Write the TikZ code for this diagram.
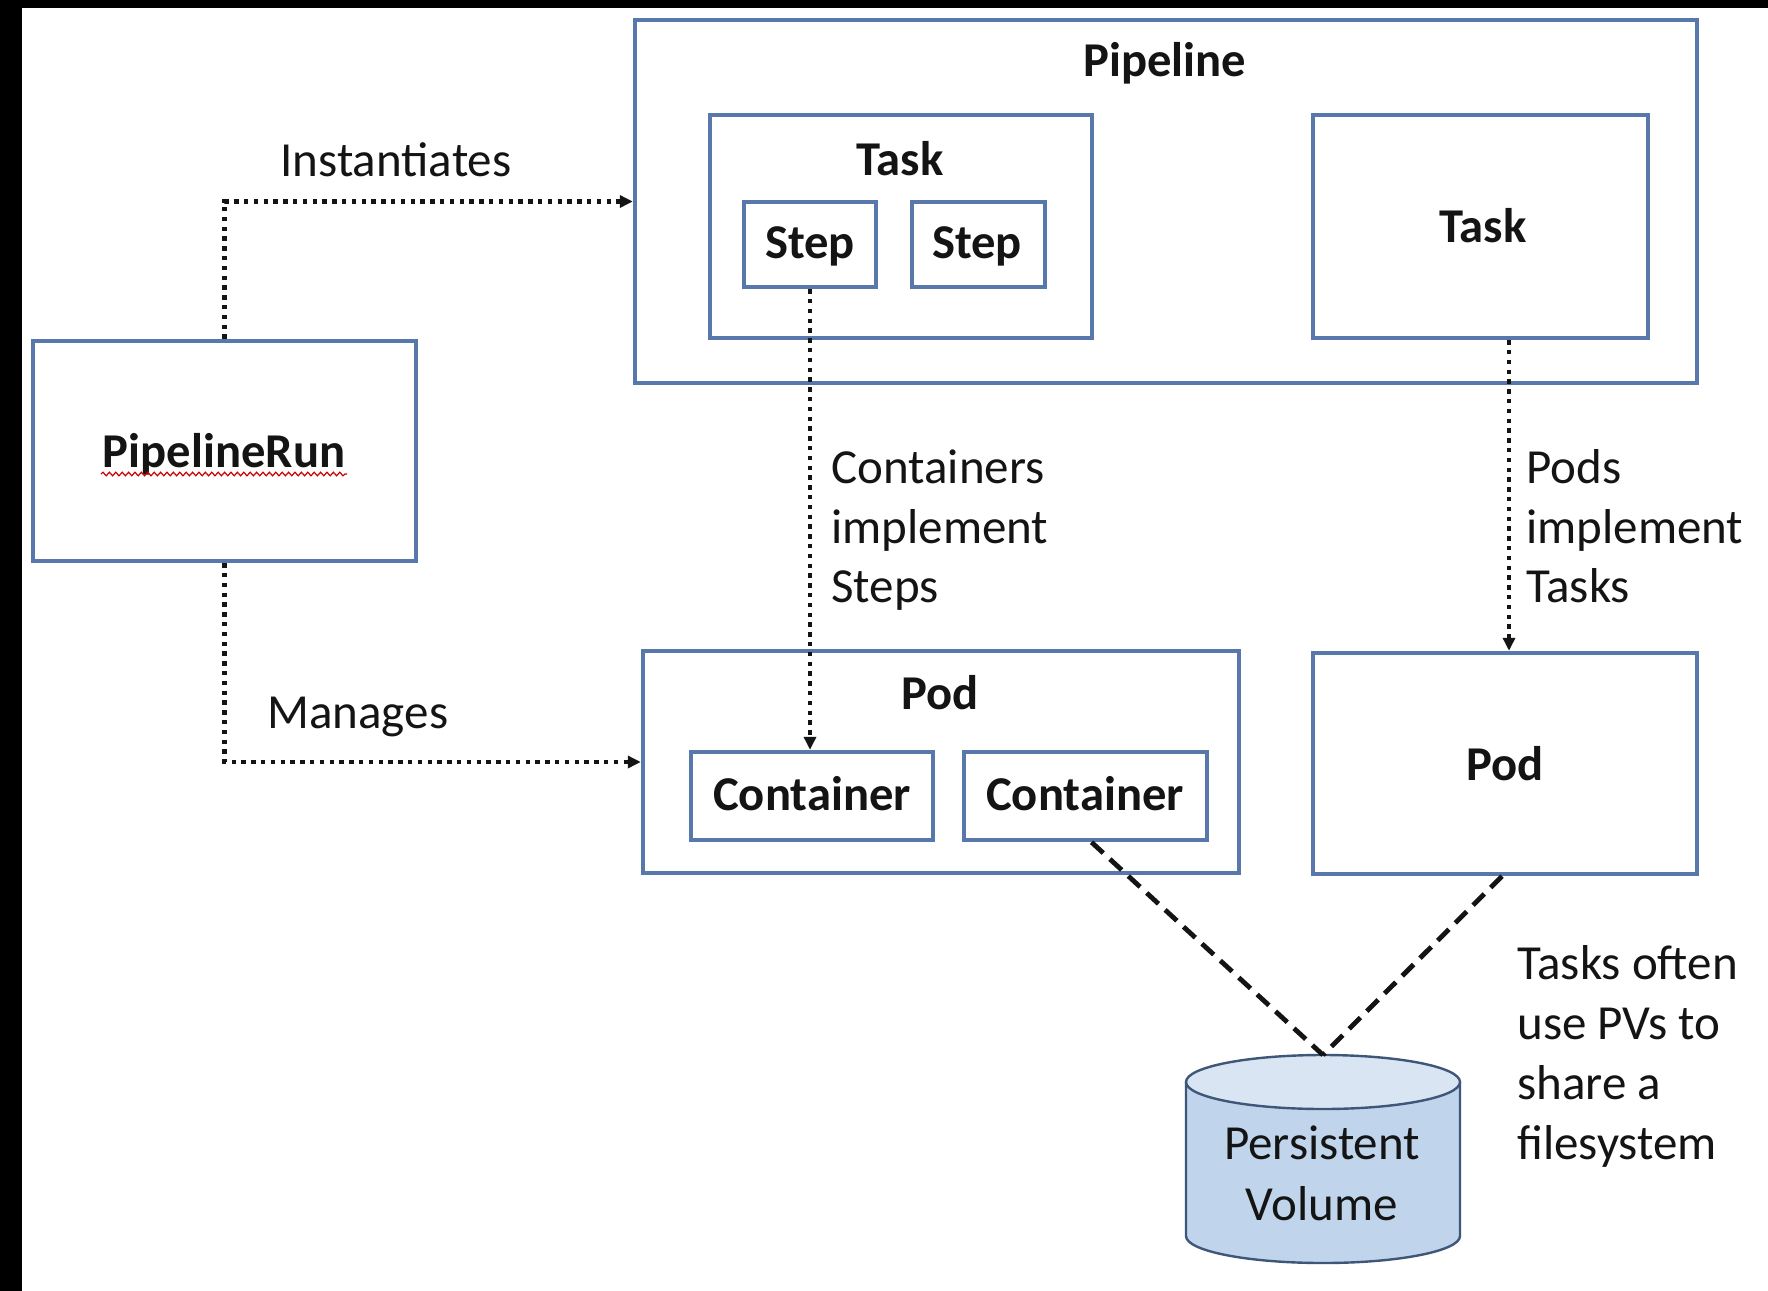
\documentclass[tikz,border=0pt]{standalone}
\usepackage{fontspec}
\setmainfont{Carlito}
\usetikzlibrary{arrows.meta,calc,fit,shadows,decorations.pathmorphing}
\definecolor{boxblue}{RGB}{88,120,172}
\definecolor{cylfill}{RGB}{192,213,236}
\definecolor{cyltop}{RGB}{218,229,243}
\definecolor{cylline}{RGB}{62,86,120}
\definecolor{txt}{RGB}{20,20,20}
\begin{document}
\begin{tikzpicture}[x=0.5pt,y=-0.5pt,
  box/.style={draw=boxblue, line width=2.2pt, fill=white, inner sep=0pt,
    drop shadow={shadow xshift=0.9pt, shadow yshift=-1.1pt, opacity=0.25}},
  lbl/.style={font=\fontsize{24.5}{29}\selectfont, text=txt, inner sep=0pt},
  blbl/.style={font=\fontsize{24.3}{29}\selectfont\bfseries, text=txt, inner sep=0pt},
  dotarrow/.style={draw=txt, line width=2.2pt, dash pattern=on 2.2pt off 2.7pt,
    -{Triangle[length=6.5pt,width=6pt]}},
  dashline/.style={draw=txt, line width=2.4pt, dash pattern=on 8pt off 4.5pt},
]
\useasboundingbox (0,0) rectangle (1768,1291);
\fill[white] (0,0) rectangle (1768,1291);
\fill[black] (0,0) rectangle (1768,8);
\fill[black] (0,0) rectangle (22,1291);

% boxes
\node[box, fit={(635,20)(1697,383)}] (pipeline) {};
\node[box, fit={(710,115)(1092,338)}] (taskL) {};
\node[box, fit={(744,202)(876,287)}] (step1) {};
\node[box, fit={(912,202)(1045,287)}] (step2) {};
\node[box, fit={(1313,115)(1648,338)}] (taskR) {};
\node[box, fit={(33,341)(416,561)}] (prun) {};
\node[box, fit={(643,651)(1239,873)}] (podL) {};
\node[box, fit={(691,752)(933,840)}] (cont1) {};
\node[box, fit={(964,752)(1207,840)}] (cont2) {};
\node[box, fit={(1313,653)(1697,874)}] (podR) {};

% cylinder
\fill[cylfill] (1186,1082) -- (1186,1236)
  arc[start angle=180, end angle=360, x radius=68.5pt, y radius=13.5pt]
  -- (1460,1082) -- cycle;
\draw[cylline, line width=1.2pt] (1186,1082) -- (1186,1236)
  arc[start angle=180, end angle=360, x radius=68.5pt, y radius=13.5pt]
  -- (1460,1082);
\draw[cylline, line width=1.2pt, fill=cyltop] (1323,1082) ellipse [x radius=68.5pt, y radius=13.5pt];
\coordinate (pvtop) at (1323,1055);

% bold labels
\node[blbl, anchor=base] (tPipeline) at (1165,76) {Pipeline};
\node[blbl, anchor=base] (tTaskL) at (900,175) {Task};
\node[blbl, anchor=base] (tStep1) at (810,258) {Step};
\node[blbl, anchor=base] (tStep2) at (977,258) {Step};
\node[blbl, anchor=base] (tTaskR) at (1483,242) {Task};
\node[blbl, anchor=base] (tPrun) at (224,467) {PipelineRun};
\node[blbl, anchor=base] (tPodL) at (940,709) {Pod};
\node[blbl, anchor=base] (tCont1) at (812,810) {Container};
\node[blbl, anchor=base] (tCont2) at (1085,810) {Container};
\node[blbl, anchor=base] (tPodR) at (1505,780) {Pod};
\draw[red!80!black, line width=0.6pt, decorate,
  decoration={snake, amplitude=0.9pt, segment length=3.2pt}] (101,474) -- (347,474);

% plain labels
\node[lbl, anchor=base west] (lInst) at (280,176) {Instantiates};
\node[lbl, anchor=base west] (lMan) at (267,728) {Manages};
\node[lbl, anchor=base west] (lC1) at (831,483) {Containers};
\node[lbl, anchor=base west] (lC2) at (831,543) {implement};
\node[lbl, anchor=base west] (lC3) at (831,602) {Steps};
\node[lbl, anchor=base west] (lP1) at (1526,483) {Pods};
\node[lbl, anchor=base west] (lP2) at (1526,543) {implement};
\node[lbl, anchor=base west] (lP3) at (1526,602) {Tasks};
\node[lbl, anchor=base west] (lT1) at (1517,979) {Tasks often};
\node[lbl, anchor=base west] (lT2) at (1517,1039) {use PVs to};
\node[lbl, anchor=base west] (lT3) at (1517,1099) {share a};
\node[lbl, anchor=base west] (lT4) at (1517,1159) {filesystem};
\node[lbl, anchor=base] (lPV1) at (1322,1159) {Persistent};
\node[lbl, anchor=base] (lPV2) at (1322,1220) {Volume};

% connectors
\draw[dotarrow] (prun.north) |- (pipeline.west);
\draw[dotarrow] (prun.south) |- (podL.west);
\draw[dotarrow] (step1.south) -- (step1.south |- cont1.north);
\coordinate (tr) at ($(taskR.south)+(28.5,0)$);
\draw[dotarrow] (tr) -- (tr |- podR.north);
\draw[dashline] ($(cont2.south)+(6,0)$) -- (pvtop);
\draw[dashline] ($(podR.south)+(-3,0)$) -- (pvtop);
\end{tikzpicture}
\end{document}
